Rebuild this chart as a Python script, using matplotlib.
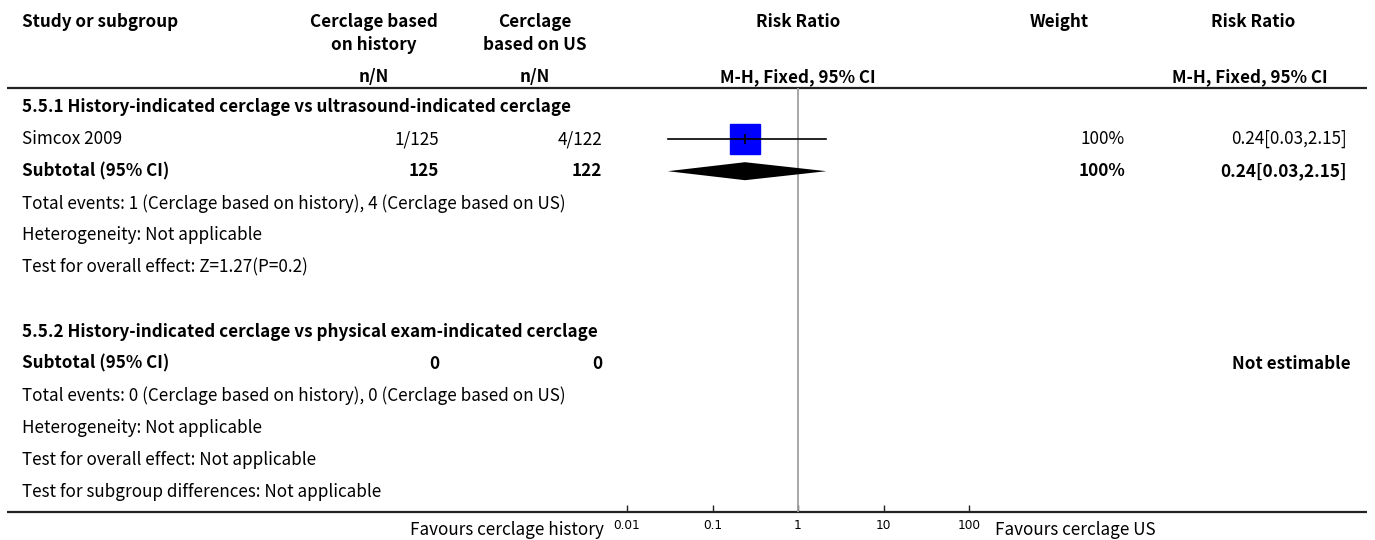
import matplotlib
matplotlib.use("Agg")
import matplotlib.pyplot as plt

# ---- data ----
study_names = ['Simcox 2009']
events_hist = [1]
total_hist = [125]
events_us = [4]
total_us = [122]
rr = [0.24]
rr_lo = [0.03]
rr_hi = [2.15]
weights = ['100%']

sub1_total_hist = 125
sub1_total_us = 122
sub1_rr = 0.24
sub1_lo = 0.03
sub1_hi = 2.15

sub2_total_hist = 0
sub2_total_us = 0

axis_ticks = [0.01, 0.1, 1, 10, 100]
axis_ticklabels = ['0.01', '0.1', '1', '10', '100']

font = ['Noto Sans CJK SC', 'DejaVu Sans']
plt.rcParams['font.family'] = font
FS = 12.3

W, H = 1375, 540
fig = plt.figure(figsize=(W / 100, H / 100), dpi=100)
ax = fig.add_axes([0, 0, 1, 1])
ax.set_xlim(0, W)
ax.set_ylim(H, 0)
ax.axis('off')

# column positions (pixels)
x_left = 22
x_hist = 439
x_us = 602
x_plot = 798
x_weight = 1125
x_rr = 1347

top_line = 88
bottom_line = 512


def row_y(k):
    return 107 + 32.1 * k


def txt(x, y, s, ha='left', bold=False, size=FS):
    ax.text(x, y, s, ha=ha, va='center', fontsize=size,
            fontweight='bold' if bold else 'normal', color='black')


# header
txt(x_left, 22, 'Study or subgroup', bold=True)
txt(374, 22, 'Cerclage based', ha='center', bold=True)
txt(374, 45, 'on history', ha='center', bold=True)
txt(535, 22, 'Cerclage', ha='center', bold=True)
txt(535, 45, 'based on US', ha='center', bold=True)
txt(374, 77, 'n/N', ha='center', bold=True)
txt(535, 77, 'n/N', ha='center', bold=True)
txt(x_plot, 22, 'Risk Ratio', ha='center', bold=True)
txt(x_plot, 77, 'M-H, Fixed, 95% CI', ha='center', bold=True)
txt(1059, 22, 'Weight', ha='center', bold=True)
txt(1253, 22, 'Risk Ratio', ha='center', bold=True)
txt(1250, 77, 'M-H, Fixed, 95% CI', ha='center', bold=True)

ax.plot([7, 1367], [top_line, top_line], color='#222222', lw=1.6, solid_capstyle='butt')
ax.plot([7, 1367], [bottom_line, bottom_line], color='#222222', lw=1.6, solid_capstyle='butt')

# subgroup 1
txt(x_left, row_y(0), '5.5.1 History-indicated cerclage vs ultrasound-indicated cerclage', bold=True)
for i, name in enumerate(study_names):
    y = row_y(1 + i)
    txt(x_left, y, name)
    txt(x_hist, y, f'{events_hist[i]}/{total_hist[i]}', ha='right')
    txt(x_us, y, f'{events_us[i]}/{total_us[i]}', ha='right')
    txt(x_weight, y, weights[i], ha='right')
    txt(x_rr, y, f'{rr[i]:.2f}[{rr_lo[i]:.2f},{rr_hi[i]:.2f}]', ha='right')

y_sub1 = row_y(2)
txt(x_left, y_sub1, 'Subtotal (95% CI)', bold=True)
txt(x_hist, y_sub1, str(sub1_total_hist), ha='right', bold=True)
txt(x_us, y_sub1, str(sub1_total_us), ha='right', bold=True)
txt(x_weight, y_sub1, '100%', ha='right', bold=True)
txt(x_rr, y_sub1, f'{sub1_rr:.2f}[{sub1_lo:.2f},{sub1_hi:.2f}]', ha='right', bold=True)
txt(x_left, row_y(3), f'Total events: {sum(events_hist)} (Cerclage based on history), '
    f'{sum(events_us)} (Cerclage based on US)')
txt(x_left, row_y(4), 'Heterogeneity: Not applicable')
txt(x_left, row_y(5), 'Test for overall effect: Z=1.27(P=0.2)')

# subgroup 2
txt(x_left, row_y(7), '5.5.2 History-indicated cerclage vs physical exam-indicated cerclage', bold=True)
y_sub2 = row_y(8)
txt(x_left, y_sub2, 'Subtotal (95% CI)', bold=True)
txt(x_hist, y_sub2, str(sub2_total_hist), ha='right', bold=True)
txt(x_us, y_sub2, str(sub2_total_us), ha='right', bold=True)
txt(1351, y_sub2, 'Not estimable', ha='right', bold=True)
txt(x_left, row_y(9), 'Total events: 0 (Cerclage based on history), 0 (Cerclage based on US)')
txt(x_left, row_y(10), 'Heterogeneity: Not applicable')
txt(x_left, row_y(11), 'Test for overall effect: Not applicable')
txt(x_left, row_y(12), 'Test for subgroup differences: Not applicable')

# favours labels
txt(604, 530, 'Favours cerclage history', ha='right')
txt(995, 530, 'Favours cerclage US')

# ---- forest panel ----
px0, px1 = 627, 969
fax = fig.add_axes([px0 / W, (H - bottom_line) / H, (px1 - px0) / W, (bottom_line - top_line) / H])
fax.set_xscale('log')
fax.set_xlim(0.01, 100)
fax.set_ylim(bottom_line, top_line)
fax.patch.set_alpha(0)
for s in fax.spines.values():
    s.set_visible(False)
fax.set_yticks([])
fax.set_xticks(axis_ticks)
fax.set_xticklabels(axis_ticklabels, family='DejaVu Sans', fontsize=8.7)
fax.minorticks_off()
fax.tick_params(axis='x', direction='in', length=5, width=1, color='#222222', pad=5)

fax.axvline(1, color='#a0a0a0', lw=1.3)

for i in range(len(study_names)):
    y = row_y(1 + i)
    fax.plot([rr_lo[i], rr_hi[i]], [y, y], color='black', lw=1.2, zorder=3)
    fax.plot([rr[i]], [y], marker='s', markersize=22.3, color='#0000ff', mec='#0000ff', zorder=2)
    fax.plot([rr[i]], [y], marker='|', markersize=7, color='black', mew=1.2, zorder=4)

fax.fill([sub1_lo, sub1_rr, sub1_hi, sub1_rr], [y_sub1, y_sub1 - 9, y_sub1, y_sub1 + 9],
         color='black', lw=0, zorder=3)

fig.savefig('out.png', dpi=100)
